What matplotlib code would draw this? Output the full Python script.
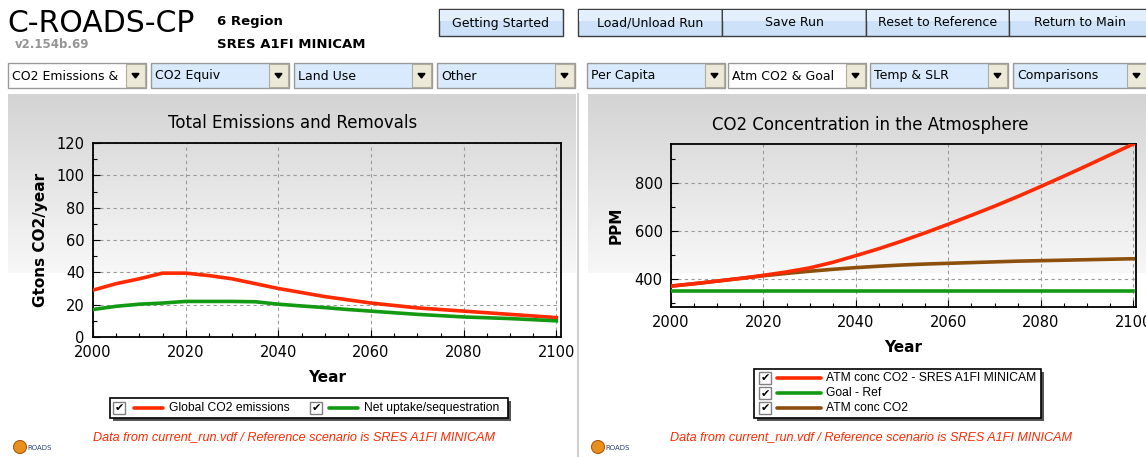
import numpy as np
import matplotlib.pyplot as plt
from matplotlib.patches import Rectangle, Polygon, Circle
from matplotlib.ticker import MultipleLocator

W, H = 1146, 457

# ---- data ----
years = [2000, 2005, 2010, 2015, 2020, 2025, 2030, 2035, 2040, 2045, 2050,
         2055, 2060, 2065, 2070, 2075, 2080, 2085, 2090, 2095, 2100]
global_emissions = [29, 33, 36, 39.5, 39.5, 38, 36, 33, 30, 27.5, 25,
                    23, 21, 19.5, 18, 17, 16, 15, 14, 13, 12]
net_uptake = [17, 19, 20.3, 21, 22, 22, 22, 21.8, 20.3, 19.2, 18.2,
              17, 16, 15, 14, 13.2, 12.4, 11.9, 11.4, 10.7, 10]
atm_sres = [370, 380, 391, 402, 415, 429, 446, 469, 497, 526, 558,
            592, 628, 665, 703, 743, 785, 828, 872, 917, 962]
atm_conc = [370, 380, 391, 402, 413, 423, 432, 440, 447, 453, 458,
            462, 465, 468, 471, 474, 476, 478, 480, 482, 484]
goal_ref = [350] * len(years)

buttons = ["Getting Started", "Load/Unload Run", "Save Run",
           "Reset to Reference", "Return to Main"]
dropdowns = ["CO2 Emissions &", "CO2 Equiv", "Land Use", "Other",
             "Per Capita", "Atm CO2 & Goal", "Temp & SLR", "Comparisons"]
left_legend = ["Global CO2 emissions", "Net uptake/sequestration"]
right_legend = ["ATM conc CO2 - SRES A1FI MINICAM", "Goal - Ref", "ATM conc CO2"]
footer = "Data from current_run.vdf / Reference scenario is SRES A1FI MINICAM"

RED, GREEN, BROWN = "#ff2a00", "#139a13", "#8c4f0c"
UI = "DejaVu Sans"
ARIAL = "Liberation Sans"

fig = plt.figure(figsize=(W / 100, H / 100), dpi=100)
fig.patch.set_facecolor("white")

# background axes in pixel coordinates
bg = fig.add_axes([0, 0, 1, 1], zorder=0)
bg.axis("off")

# panel gradients
grad = np.linspace(0.83, 0.97, 100)[:, None, None] * np.ones((1, 1, 3))
for x0, x1 in [(8, 576), (588, 1146)]:
    bg.imshow(grad, extent=(x0, x1, 273, 94), aspect="auto", interpolation="bilinear", zorder=0)
bg.plot([577.5, 577.5], [94, 457], color="#cfcfcf", lw=1.5, zorder=1)

# header
bg.text(7, 24, "C-ROADS-CP", fontsize=21.5, family=UI, va="center", ha="left", color="black")
bg.text(15, 45, "v2.154b.69", fontsize=8.5, family=UI, fontweight="bold", va="center", color="#959595")
bg.text(217, 22, "6 Region", fontsize=9.5, family=UI, fontweight="bold", va="center")
bg.text(217, 45, "SRES A1FI MINICAM", fontsize=9.5, family=UI, fontweight="bold", va="center")

# buttons
btn_edges = [(439, 563), (578, 722), (722, 866), (866, 1009), (1009, 1150)]
for label, (x0, x1) in zip(buttons, btn_edges):
    bg.add_patch(Rectangle((x0, 9), x1 - x0, 27, facecolor="#cde2f9", edgecolor="#3c3c3c", lw=1, zorder=2))
    bg.add_patch(Rectangle((x0 + 1, 10), x1 - x0 - 2, 11, facecolor="#e3effc", edgecolor="none", zorder=2))
    bg.text((x0 + x1) / 2, 23, label, fontsize=9, family=UI, ha="center", va="center", zorder=3)

# dropdowns
dd_edges = [(8, 146), (151, 289), (294, 432), (437, 575),
            (587, 725), (728, 866), (870, 1008), (1013, 1151)]
for i, (label, (x0, x1)) in enumerate(zip(dropdowns, dd_edges)):
    fill = "white" if i in (0, 5) else "#d8eafb"
    bg.add_patch(Rectangle((x0, 63), x1 - x0, 25, facecolor=fill, edgecolor="#9a9a9a", lw=1, zorder=2))
    ax0 = min(x1, 1146) - 20 if i < 7 else 1127
    bg.add_patch(Rectangle((ax0, 64), 19, 23, facecolor="#ece9d8", edgecolor="#b0ad9e", lw=0.8, zorder=3))
    cx = ax0 + 9.5
    bg.add_patch(Polygon([(cx - 3.5, 73.5), (cx + 3.5, 73.5), (cx, 78)], closed=True, color="black", zorder=4))
    bg.text(x0 + 4, 76, label, fontsize=9, family=UI, va="center", ha="left", zorder=4, clip_on=True)

# chart titles
bg.text(293, 123, "Total Emissions and Removals", fontsize=12, family=UI, ha="center", va="center")
bg.text(870, 125, "CO2 Concentration in the Atmosphere", fontsize=12, family=UI, ha="center", va="center")


def checkbox(x, y):
    bg.add_patch(Rectangle((x, y - 6), 12, 12, facecolor="white", edgecolor="#808080", lw=1, zorder=6))
    bg.text(x + 6, y + 0.5, "✔", fontsize=8, family="DejaVu Sans", ha="center", va="center", zorder=7)


def legend_box(x0, y0, x1, y1):
    bg.add_patch(Rectangle((x0 + 3, y0 + 3), x1 - x0, y1 - y0, facecolor="#555555", edgecolor="none", zorder=4))
    bg.add_patch(Rectangle((x0, y0), x1 - x0, y1 - y0, facecolor="white", edgecolor="black", lw=1.2, zorder=5))


# left legend
legend_box(110, 398, 508, 418)
for (cbx, lx0, tx), label, col in zip([(113, 134, 169), (310, 329, 364)], left_legend, [RED, GREEN]):
    checkbox(cbx, 408)
    bg.plot([lx0, lx0 + 29], [408, 408], color=col, lw=2.6, solid_capstyle="round", zorder=6)
    bg.text(tx, 408, label, fontsize=8.7, family=ARIAL, va="center", ha="left", zorder=6)

# right legend
legend_box(754, 369, 1041, 418)
for yy, label, col in zip([378, 393, 408], right_legend, [RED, GREEN, BROWN]):
    checkbox(759, yy)
    bg.plot([777, 821], [yy, yy], color=col, lw=2.6, solid_capstyle="round", zorder=6)
    bg.text(826, yy, label, fontsize=8.7, family=ARIAL, va="center", ha="left", zorder=6)

# footers and logos
for cx in (294, 871):
    bg.text(cx, 437, footer, fontsize=9.1, family=ARIAL, style="italic", color="#ff2a00", ha="center", va="center")
for lx in (12, 590):
    bg.add_patch(Circle((lx + 8, 447), 6.5, facecolor="#e8901c", edgecolor="#b05a10", lw=0.8, zorder=3))
    bg.text(lx + 15, 448, "ROADS", fontsize=5, family=UI, color="#2a3f7a", va="center", ha="left", zorder=4)

bg.set_xlim(0, W)
bg.set_ylim(H, 0)


def px_axes(x0, y0, x1, y1):
    return fig.add_axes([x0 / W, 1 - y1 / H, (x1 - x0) / W, (y1 - y0) / H], zorder=2)


def style(ax):
    ax.set_facecolor("none")
    for s in ax.spines.values():
        s.set_linewidth(1.3)
        s.set_color("black")
    ax.grid(True, which="major", linestyle=(0, (3, 3)), color="#9a9a9a", lw=0.8)
    ax.xaxis.set_major_locator(MultipleLocator(20))
    ax.xaxis.set_minor_locator(MultipleLocator(5))
    ax.tick_params(which="both", direction="in", labelsize=10.5, top=False, right=False)
    ax.tick_params(which="major", length=5, width=0.8, pad=6)
    ax.tick_params(which="minor", length=3, width=0.8)
    for lab in ax.get_xticklabels() + ax.get_yticklabels():
        lab.set_family(UI)


# left chart
ax1 = px_axes(93, 143, 561, 337)
ax1.plot(years, global_emissions, color=RED, lw=2.6, zorder=3)
ax1.plot(years, net_uptake, color=GREEN, lw=2.6, zorder=3)
ax1.set_xlim(2000, 2101)
ax1.set_ylim(0, 120)
ax1.yaxis.set_major_locator(MultipleLocator(20))
ax1.yaxis.set_minor_locator(MultipleLocator(10))
style(ax1)
ax1.set_xlabel("Year", fontsize=11, family=UI, fontweight="bold", labelpad=7)
ax1.set_ylabel("Gtons CO2/year", fontsize=11, family=UI, fontweight="bold", labelpad=6)

# right chart
ax2 = px_axes(671, 144, 1136, 307)
ax2.plot(years, atm_sres, color=RED, lw=2.6, zorder=4)
ax2.plot(years, goal_ref, color=GREEN, lw=2.6, zorder=3)
ax2.plot(years, atm_conc, color=BROWN, lw=2.6, zorder=3)
ax2.set_xlim(2000, 2100.6)
ax2.set_ylim(283, 962)
ax2.yaxis.set_major_locator(MultipleLocator(200))
ax2.yaxis.set_minor_locator(MultipleLocator(100))
style(ax2)
ax2.set_xlabel("Year", fontsize=11, family=UI, fontweight="bold", labelpad=7)
ax2.set_ylabel("PPM", fontsize=11, family=UI, fontweight="bold", labelpad=8)

fig.savefig("out.png", dpi=100)
